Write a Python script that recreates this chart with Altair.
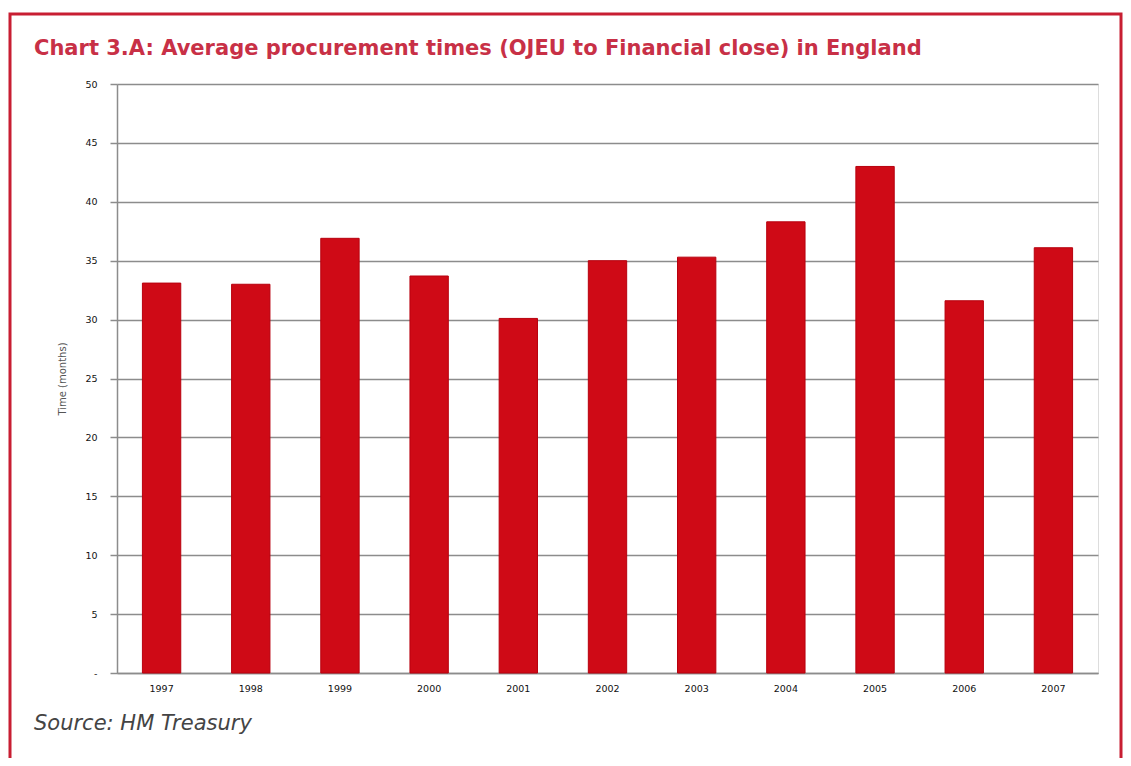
import altair as alt
import pandas as pd

years = ["1997", "1998", "1999", "2000", "2001", "2002", "2003", "2004", "2005", "2006", "2007"]
months = [33.1, 33.0, 36.9, 33.7, 30.1, 35.0, 35.3, 38.3, 43.0, 31.6, 36.1]
title_text = "Chart 3.A: Average procurement times (OJEU to Financial close) in England"
source_text = "Source: HM Treasury"
y_title = "Time (months)"

df = pd.DataFrame({"year": years, "months": months})

RED = "#cf0a16"
TITLE_RED = "#c83046"
GRID = "#8c8c8c"

bars = alt.Chart(df).mark_bar(color=RED, stroke="#b8000e", strokeWidth=1).encode(
    x=alt.X(
        "year:N",
        sort=years,
        scale=alt.Scale(paddingInner=0.57, paddingOuter=0.285),
        axis=alt.Axis(
            title=None,
            labelAngle=0,
            ticks=False,
            labelPadding=10,
            labelFont="DejaVu Sans",
            labelFontSize=9.5,
            labelColor="#111111",
            domainColor=GRID,
            domainWidth=1.5,
            grid=False,
        ),
    ),
    y=alt.Y(
        "months:Q",
        scale=alt.Scale(domain=[0, 50], nice=False),
        axis=alt.Axis(
            title=y_title,
            values=[0, 5, 10, 15, 20, 25, 30, 35, 40, 45, 50],
            labelExpr="datum.value == 0 ? '-' : datum.label",
            labelFont="DejaVu Sans",
            labelFontSize=9.5,
            labelColor="#111111",
            labelPadding=13,
            tickSize=7,
            tickColor=GRID,
            tickWidth=1.5,
            domainColor=GRID,
            domainWidth=1.5,
            gridColor=GRID,
            gridWidth=1.5,
            titleFont="DejaVu Sans",
            titleFontSize=10,
            titleFontWeight="normal",
            titleColor="#555555",
            titlePadding=17,
        ),
    ),
)

title_layer = alt.Chart(pd.DataFrame({"t": [title_text]})).mark_text(
    align="left", baseline="alphabetic", font="DejaVu Sans", fontSize=21, fontWeight="bold", color=TITLE_RED
).encode(text="t:N", x=alt.value(-83), y=alt.value(-29))

source_layer = alt.Chart(pd.DataFrame({"t": [source_text]})).mark_text(
    align="left", baseline="alphabetic", font="DejaVu Sans", fontSize=21, fontStyle="italic", color="#444444"
).encode(text="t:N", x=alt.value(-83), y=alt.value(646))

frame = alt.Chart(pd.DataFrame({"a": [0]})).mark_rect(
    fillOpacity=0, stroke="#c81e32", strokeWidth=3
).encode(x=alt.value(-107), x2=alt.value(1004), y=alt.value(-70), y2=alt.value(720))

chart = alt.layer(frame, bars, title_layer, source_layer).properties(
    width=981,
    height=589,
    autosize=alt.AutoSizeParams(type="none"),
    padding={"left": 109, "top": 76, "right": 25, "bottom": 85},
).configure_view(stroke=None).configure(background="white")

chart.save("out.html", embed_options={"renderer": "svg", "actions": False})
